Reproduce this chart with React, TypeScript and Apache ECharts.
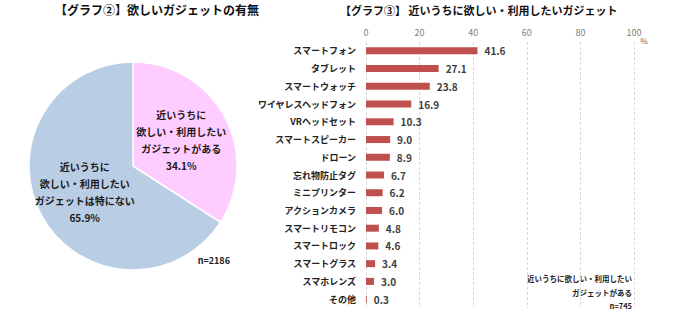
import React, { useEffect, useRef } from "react";
import * as echarts from "echarts";

const pieNames = [
  "近いうちに\n欲しい・利用したい\nガジェットがある",
  "近いうちに\n欲しい・利用したい\nガジェットは特にない",
];
const pieValues = [34.1, 65.9];
const pieColors = ["#FFCCFF", "#B9CDE5"];

const categories = [
  "スマートフォン",
  "タブレット",
  "スマートウォッチ",
  "ワイヤレスヘッドフォン",
  "VRヘッドセット",
  "スマートスピーカー",
  "ドローン",
  "忘れ物防止タグ",
  "ミニプリンター",
  "アクションカメラ",
  "スマートリモコン",
  "スマートロック",
  "スマートグラス",
  "スマホレンズ",
  "その他",
];
const barValues = [41.6, 27.1, 23.8, 16.9, 10.3, 9.0, 8.9, 6.7, 6.2, 6.0, 4.8, 4.6, 3.4, 3.0, 0.3];
const xTicks = [0, 20, 40, 60, 80, 100];

const FONT = '"Noto Sans CJK JP", "Noto Sans", sans-serif';

export default function App() {
  const ref = useRef<HTMLDivElement>(null);
  useEffect(() => {
    document.body.style.margin = "0";
    const chart = echarts.init(ref.current!, null, { renderer: "svg" });
    chart.setOption({
      animation: false,
      backgroundColor: "#ffffff",
      textStyle: { fontFamily: FONT },
      graphic: [
        {
          type: "text",
          x: 157,
          y: 3,
          style: { text: "【グラフ②】欲しいガジェットの有無", font: `bold 12px ${FONT}`, fill: "#111", textAlign: "center" },
        },
        {
          type: "text",
          x: 340,
          y: 4,
          style: { text: "【グラフ③】 近いうちに欲しい・利用したいガジェット", font: `bold 11px ${FONT}`, fill: "#111" },
        },
        {
          type: "text",
          x: 230,
          y: 256,
          style: { text: "n=2186", font: `bold 9px ${FONT}`, fill: "#222", textAlign: "right" },
        },
        {
          type: "text",
          x: 644,
          y: 36,
          style: { text: "%", font: `8px ${FONT}`, fill: "#666", textAlign: "center" },
        },
        {
          type: "text",
          x: 632,
          y: 272,
          style: {
            text: "近いうちに欲しい・利用したい\nガジェットがある\nn=745",
            font: `bold 7.5px ${FONT}`,
            lineHeight: 13.5,
            fill: "#222",
            textAlign: "right",
          },
        },
      ],
      grid: { left: 366, right: 46, top: 42, bottom: 17 },
      xAxis: {
        type: "value",
        position: "top",
        min: 0,
        max: 100,
        interval: 20,
        axisLine: { show: false },
        axisTick: { show: false },
        axisLabel: { color: "#808080", fontSize: 9, margin: 5, fontFamily: FONT },
        splitLine: { show: true, lineStyle: { color: "#d9d9d9", type: [3, 2], width: 1 } },
        data: xTicks,
      },
      yAxis: {
        type: "category",
        inverse: true,
        data: categories,
        axisLine: { show: false },
        axisTick: { show: false },
        axisLabel: { color: "#222", fontSize: 9, margin: 10, fontWeight: "bold", fontFamily: FONT },
      },
      series: [
        {
          type: "pie",
          center: [133, 166],
          radius: [0, 104],
          startAngle: 90,
          clockwise: true,
          silent: true,
          itemStyle: { borderColor: "#fff", borderWidth: 1.5 },
          label: {
            show: true,
            position: "inside",
            formatter: (p: any) => `${p.name}\n${p.value.toFixed(1)}%`,
            color: "#1a1a1a",
            fontSize: 10,
            fontWeight: "bold",
            lineHeight: 17,
            fontFamily: FONT,
          },
          labelLine: { show: false },
          data: pieNames.map((n, i) => ({ name: n, value: pieValues[i], itemStyle: { color: pieColors[i] } })),
        },
        {
          type: "bar",
          data: barValues,
          barWidth: 7,
          itemStyle: { color: "#C0504D" },
          label: {
            show: true,
            position: "right",
            distance: 7,
            formatter: (p: any) => p.value.toFixed(1),
            color: "#404040",
            fontSize: 10,
            fontWeight: "bold",
            fontFamily: FONT,
          },
        },
      ],
    });
    return () => chart.dispose();
  }, []);
  return <div ref={ref} style={{ position: "absolute", left: 0, top: 0, width: 680, height: 325 }} />;
}
